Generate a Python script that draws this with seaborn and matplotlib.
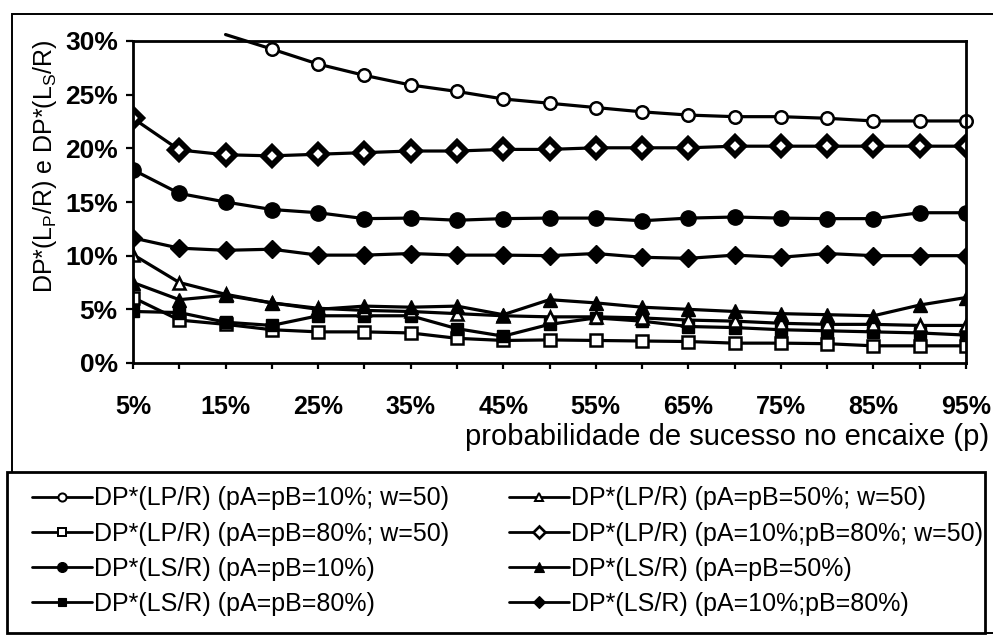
import numpy as np
import pandas as pd
import matplotlib
matplotlib.use("Agg")
import matplotlib.pyplot as plt
from matplotlib.patches import Rectangle
from matplotlib.ticker import FuncFormatter
import seaborn as sns

# probabilidade de sucesso no encaixe (p), em %
p = [5, 10, 15, 20, 25, 30, 35, 40, 45, 50, 55, 60, 65, 70, 75, 80, 85, 90, 95]
x_ticks = [5, 15, 25, 35, 45, 55, 65, 75, 85, 95]

# DP*(LP/R) e DP*(LS/R), em %
lp_10 = [np.nan, np.nan, 30.6, 29.25, 27.85, 26.8, 25.9, 25.3, 24.6, 24.2,
         23.8, 23.4, 23.1, 22.95, 22.95, 22.8, 22.55, 22.55, 22.55]
lp_80 = [6.1, 4.0, 3.6, 3.1, 2.9, 2.9, 2.8, 2.3, 2.1, 2.15,
         2.1, 2.05, 2.0, 1.85, 1.85, 1.8, 1.6, 1.6, 1.6]
ls_10 = [18.0, 15.8, 15.0, 14.3, 14.0, 13.45, 13.5, 13.3, 13.45, 13.5,
         13.5, 13.25, 13.5, 13.6, 13.5, 13.45, 13.45, 14.0, 14.0]
ls_80 = [4.8, 4.7, 3.8, 3.5, 4.4, 4.4, 4.4, 3.2, 2.5, 3.6,
         4.2, 3.9, 3.4, 3.3, 3.1, 3.0, 2.9, 2.8, 2.6]
lp_50 = [10.1, 7.5, 6.4, 5.6, 5.1, 4.9, 4.8, 4.6, 4.4, 4.3,
         4.3, 4.2, 4.0, 3.9, 3.7, 3.6, 3.6, 3.5, 3.5]
lp_10_80 = [22.8, 19.85, 19.4, 19.3, 19.45, 19.6, 19.75, 19.75, 19.9, 19.9,
            20.05, 20.05, 20.05, 20.2, 20.2, 20.2, 20.2, 20.2, 20.2]
ls_50 = [7.5, 5.9, 6.3, 5.6, 5.0, 5.3, 5.2, 5.3, 4.5, 5.9,
         5.6, 5.2, 5.0, 4.8, 4.6, 4.5, 4.4, 5.4, 6.1]
ls_10_80 = [11.65, 10.7, 10.5, 10.6, 10.05, 10.05, 10.2, 10.05, 10.05, 10.0,
            10.2, 9.85, 9.75, 10.05, 9.85, 10.2, 10.0, 10.0, 10.0]

labels = [
    "DP*(LP/R) (pA=pB=10%; w=50)",
    "DP*(LP/R) (pA=pB=80%; w=50)",
    "DP*(LS/R) (pA=pB=10%)",
    "DP*(LS/R) (pA=pB=80%)",
    "DP*(LP/R) (pA=pB=50%; w=50)",
    "DP*(LP/R) (pA=10%;pB=80%; w=50)",
    "DP*(LS/R) (pA=pB=50%)",
    "DP*(LS/R) (pA=10%;pB=80%)",
]
values = [lp_10, lp_80, ls_10, ls_80, lp_50, lp_10_80, ls_50, ls_10_80]

# marker, size, face colour, edge width
styles = [
    ("o", 9, "white", 1.8),
    ("s", 8, "white", 1.8),
    ("o", 11, "black", 1.0),
    ("s", 9, "black", 1.0),
    ("^", 9, "white", 1.8),
    ("D", 9, "white", 4.2),
    ("^", 10, "black", 1.0),
    ("D", 9.5, "black", 1.0),
]

frames = []
for lab, vals in zip(labels, values):
    frames.append(pd.DataFrame({"p": p, "dp": vals, "serie": lab}))
df = pd.concat(frames, ignore_index=True)

sns.set_theme(style="white")
plt.rcParams["font.family"] = ["Liberation Sans", "DejaVu Sans"]
plt.rcParams["mathtext.fontset"] = "custom"
plt.rcParams["mathtext.rm"] = "Liberation Sans"

fig = plt.figure(figsize=(9.93, 6.37), dpi=100)
fig.patch.set_facecolor("white")
ax = fig.add_axes([133 / 993, 1 - 363 / 637, (966 - 133) / 993, (363 - 41) / 637])

handles = []
for lab, (mk, ms, fc, mew) in zip(labels, styles):
    sub = df[df["serie"] == lab].dropna()
    kw = dict(marker=mk, markersize=ms, markerfacecolor=fc,
              markeredgecolor="black", markeredgewidth=mew)
    if lab == labels[0]:
        # the first visible point lies just above the 30% ceiling
        kw["markevery"] = list(range(1, len(sub)))
        kw["clip_on"] = False
    sns.lineplot(data=sub, x="p", y="dp", ax=ax, color="black", linewidth=2.3,
                 errorbar=None, legend=False, **kw)
    h, = ax.plot([], [], color="black", linewidth=2.0, marker=mk,
                 markersize=ms * 0.65, markerfacecolor=fc,
                 markeredgecolor="black", markeredgewidth=min(mew, 2.4) * 0.8,
                 label=lab)
    handles.append(h)

ax.set_xlim(5, 95)
ax.set_ylim(0, 30)
ax.set_xticks(x_ticks)
ax.set_xticks(p, minor=True)
ax.set_xticklabels([f"{v}%" for v in x_ticks])
ax.set_yticks([0, 5, 10, 15, 20, 25, 30])
ax.yaxis.set_major_formatter(FuncFormatter(lambda v, _: f"{v:.0f}%"))
ax.set_xlabel("")
ax.set_ylabel("")
ax.grid(False)

for s in ax.spines.values():
    s.set_color("black")
    s.set_linewidth(2.0)
    s.set_visible(True)

ax.tick_params(axis="y", which="major", direction="out", length=5, width=1.6,
               color="black", pad=6, labelsize=19, left=True)
ax.tick_params(axis="x", which="both", direction="out", length=4, width=1.6,
               color="black", bottom=True)
ax.tick_params(axis="x", which="major", pad=19, labelsize=18)
for t in ax.get_xticklabels() + ax.get_yticklabels():
    t.set_fontweight("bold")
    t.set_color("black")

fig.text(45 / 993, 1 - 166 / 637,
         r"DP*(L$_\mathregular{P}$/R) e DP*(L$_\mathregular{S}$/R)",
         rotation=90, ha="center", va="center", fontsize=18, color="black")
fig.text(989 / 993, 1 - 437 / 637, "probabilidade de sucesso no encaixe (p)",
         ha="right", va="center", fontsize=21, color="black")

# chart frame and legend box
fig.patches.append(Rectangle((12 / 993, 1 - 633 / 637), (1010 - 12) / 993,
                             (633 - 14) / 637, transform=fig.transFigure,
                             fill=False, edgecolor="black", linewidth=1.4))
fig.patches.append(Rectangle((7 / 993, 1 - 633 / 637), (985 - 7) / 993,
                             (633 - 472) / 637, transform=fig.transFigure,
                             facecolor="white", edgecolor="black", linewidth=2.0))

leg = fig.legend(handles=handles, labels=labels, ncol=2, loc="lower left",
                 bbox_to_anchor=(15 / 993, 1 - 633 / 637, (1000 - 15) / 993,
                                 (633 - 472) / 637),
                 mode="expand", borderaxespad=0, fontsize=18,
                 handlelength=2.4, handletextpad=0.1, labelspacing=0.45,
                 borderpad=0.68, columnspacing=1.0, frameon=False)
for t in leg.get_texts():
    t.set_color("black")

fig.savefig("out.png", dpi=100, facecolor="white")
